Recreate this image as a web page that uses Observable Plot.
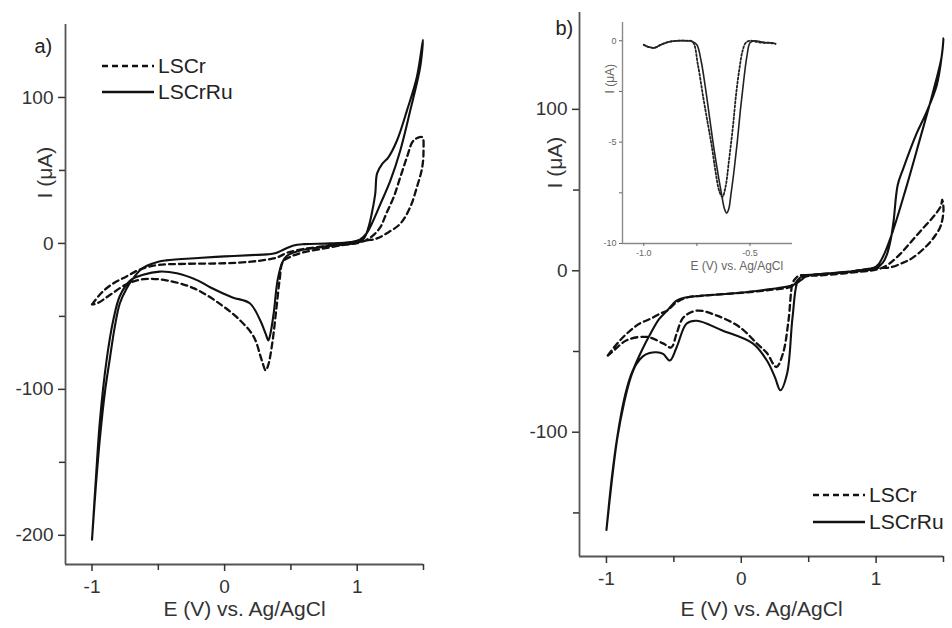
<!DOCTYPE html>
<html><head><meta charset="utf-8">
<script src="https://cdn.jsdelivr.net/npm/d3@7"></script>
<script src="https://cdn.jsdelivr.net/npm/@observablehq/plot@0.6"></script>
<style>
body{margin:0;background:#fff;font-family:"Liberation Sans",Arial,sans-serif;}
#wrap{position:relative;width:952px;height:628px;overflow:hidden;background:#fff;}
#wrap > svg{position:absolute;}
.leg{position:absolute;display:flex;align-items:center;height:26px;font-size:21px;color:#222;white-space:nowrap;}
#wrap .leg svg{position:static;margin-right:4px;display:block;}
</style></head>
<body><div id="wrap"></div>
<script>
// ---------- data ----------
const seriesNames = ["LSCr", "LSCrRu"];
const xTicksMain = [-1, 0, 1];
const xMinorMain = [-0.5, 0.5, 1.5];
const yTicksA = [-200, -100, 0, 100];
const yMinorA = [-150, -50, 50];
const yTicksB = [-100, 0, 100];
const yMinorB = [-150, -50, 50];
const insetXTicks = [-1.0, -0.5];
const insetXMinor = [-0.75];
const insetYTicks = [-10, -5, 0];
const insetYMinor = [-7.5, -2.5];

// panel a) LSCr (dashed) closed CV loop, [E (V), I (uA)]
const aLSCr = [[-1.0,-41.8],[-0.93,-34],[-0.85,-28],[-0.74,-22.6],[-0.63,-17.5],[-0.5,-14.8],[-0.3,-14],[0,-13.6],[0.2,-12.5],[0.32,-11.1],[0.4,-9.5],[0.47,-6.5],[0.57,-4.2],[0.7,-2.5],[0.85,-1.0],[0.98,0.5],[1.07,2],[1.15,3.4],[1.22,6.8],[1.325,13.5],[1.4,24.9],[1.45,38.5],[1.49,52],[1.5,63.7],[1.49,72.8],
 [1.425,70.5],[1.375,59],[1.325,45.4],[1.275,31.7],[1.22,20.5],[1.175,11.2],[1.12,5.5],[1.07,2.4],[1.0,0.2],[0.9,-1],[0.75,-3.4],[0.6,-6],[0.5,-9],[0.44,-12.5],[0.415,-25],[0.39,-45],[0.36,-68],[0.33,-83],[0.31,-87],[0.28,-80],[0.22,-64],[0.12,-53],[-0.03,-41.8],[-0.23,-30.8],[-0.44,-25.3],[-0.61,-24.5],[-0.74,-28],[-0.86,-35],[-0.96,-41],[-1.0,-41.8]];
// panel a) LSCrRu (solid)
const aLSCrRu = [[-1.0,-203],[-0.97,-165],[-0.94,-133],[-0.9,-100],[-0.864,-78],[-0.83,-58],[-0.79,-41],[-0.74,-31],[-0.69,-24],[-0.64,-18.5],[-0.59,-15.5],[-0.5,-12.5],[-0.44,-11.6],[-0.2,-10],[0,-8.9],[0.2,-8],[0.32,-7.5],[0.38,-6.8],[0.45,-4],[0.52,-1.4],[0.6,-0.5],[0.8,0],[0.95,1],[1.02,2.5],[1.07,6.8],[1.11,13.5],[1.175,27],[1.25,43],[1.325,63.7],[1.4,91],[1.475,120.8],[1.496,139.5],
 [1.45,114],[1.375,91],[1.3,70.5],[1.235,59],[1.19,54.6],[1.15,48],[1.136,34],[1.11,20.5],[1.085,11],[1.05,3.4],[1.0,0.7],[0.9,-0.8],[0.8,-1.5],[0.7,-3],[0.57,-4.8],[0.47,-8.5],[0.435,-13],[0.40,-25],[0.37,-48],[0.345,-62],[0.33,-66.4],[0.31,-62],[0.27,-53],[0.19,-41],[0.06,-37],[-0.11,-30],[-0.2,-25.5],[-0.36,-20.5],[-0.49,-19.3],[-0.615,-21.5],[-0.71,-25.3],[-0.79,-36],[-0.84,-52.7],[-0.89,-80],[-0.94,-121],[-0.97,-160],[-1.0,-203]];

// panel b) LSCr (dashed)
const bLSCr = [[-0.99,-52.5],[-0.92,-45],[-0.85,-39],[-0.76,-33],[-0.68,-30],[-0.6,-26.5],[-0.55,-24.7],[-0.48,-19.5],[-0.4,-16.5],[-0.3,-15.5],[0,-13.6],[0.2,-12],[0.38,-9.5],[0.43,-5],[0.5,-3.2],[0.75,-1.2],[1.0,1.7],[1.1,2],[1.2,5],[1.27,8],[1.37,15],[1.44,22],[1.48,28],[1.5,38],[1.49,44],
 [1.48,40],[1.42,33],[1.33,24.7],[1.25,17],[1.18,10.5],[1.1,4.5],[1.05,2],[1.0,0.7],[0.75,-1.7],[0.55,-3],[0.43,-3],[0.4,-5],[0.38,-8],[0.35,-31],[0.31,-51],[0.26,-59.6],[0.19,-51],[0.115,-45],[-0.01,-35],[-0.18,-27.8],[-0.33,-24.7],[-0.43,-29],[-0.48,-39],[-0.52,-47.5],[-0.58,-45],[-0.7,-41],[-0.85,-43],[-0.94,-49],[-0.99,-52.5]];
// panel b) LSCrRu (solid)
const bLSCrRu = [[-1.0,-160.5],[-0.96,-128],[-0.92,-103],[-0.87,-80],[-0.82,-65],[-0.78,-57],[-0.73,-48],[-0.68,-40],[-0.61,-30],[-0.55,-24.7],[-0.48,-18.5],[-0.41,-16.5],[-0.3,-15.5],[0,-13.6],[0.2,-11.5],[0.38,-9],[0.44,-6],[0.49,-3],[0.6,-1.8],[0.75,-1.2],[0.9,0],[1.0,1.5],[1.05,5],[1.08,10],[1.11,20],[1.13,31],[1.16,53],[1.2,63],[1.3,85],[1.37,97.5],[1.45,115],[1.49,135],[1.5,144],
 [1.485,132],[1.42,110],[1.32,80],[1.22,50.6],[1.12,23.5],[1.05,8.6],[1.0,2.5],[0.85,0],[0.7,-1.2],[0.55,-2.5],[0.46,-3],[0.42,-6],[0.38,-29],[0.34,-63.6],[0.29,-74],[0.25,-66],[0.19,-55.6],[0.085,-45],[-0.14,-37],[-0.33,-31],[-0.405,-32.7],[-0.48,-47.5],[-0.53,-55.6],[-0.58,-51.5],[-0.63,-50.5],[-0.68,-51],[-0.73,-53],[-0.78,-58],[-0.82,-66],[-0.87,-82],[-0.92,-104],[-0.96,-130],[-1.0,-160.5]];

// inset
const insetLSCr = [[-1.0,-0.2],[-0.98,-0.3],[-0.95,-0.35],[-0.92,-0.2],[-0.88,-0.05],[-0.84,0],[-0.8,0],[-0.77,-0.05],[-0.745,-1.2],[-0.72,-2.8],[-0.70,-4.0],[-0.68,-5.2],[-0.66,-6.6],[-0.645,-7.4],[-0.63,-7.7],[-0.615,-7.2],[-0.6,-6.0],[-0.58,-4.2],[-0.565,-2.6],[-0.55,-1.4],[-0.535,-0.5],[-0.52,-0.1],[-0.5,0],[-0.47,-0.05],[-0.44,-0.1],[-0.41,-0.1],[-0.38,-0.15]];
const insetLSCrRu = [[-1.0,-0.2],[-0.98,-0.3],[-0.95,-0.35],[-0.92,-0.2],[-0.88,-0.05],[-0.84,0],[-0.8,0],[-0.77,-0.05],[-0.75,-0.2],[-0.73,-1.0],[-0.71,-2.3],[-0.69,-3.8],[-0.67,-5.3],[-0.65,-6.6],[-0.635,-7.5],[-0.62,-8.3],[-0.61,-8.5],[-0.6,-8.3],[-0.59,-7.6],[-0.575,-6.4],[-0.56,-5.0],[-0.545,-3.4],[-0.53,-2.0],[-0.515,-0.8],[-0.5,-0.1],[-0.48,0],[-0.45,-0.05],[-0.42,-0.1],[-0.4,-0.1],[-0.38,-0.15]];

// ---------- drawing ----------
const FONT = '"Liberation Sans", Arial, sans-serif';
const wrap = document.getElementById("wrap");
const fmt = d => String(d);
const fmt1 = d => d.toFixed(1);
const AX = "#555", TXT = "#333", INK = "#111";

function mainPanel(o) {
  const svg = Plot.plot({
    width: 476, height: 628,
    marginLeft: o.m[0], marginRight: o.m[1], marginTop: o.m[2], marginBottom: o.m[3],
    style: {fontFamily: FONT, background: "transparent", overflow: "visible"},
    x: {domain: [-1.2, 1.5]},
    y: {domain: o.yDomain},
    marks: [
      Plot.ruleX([-1.2], {stroke: AX, strokeWidth: 1.8}),
      Plot.ruleY([o.yDomain[0]], {stroke: AX, strokeWidth: 1.8}),
      Plot.axisX({ticks: xTicksMain, tickSize: 7, tickPadding: 8, fontSize: 19, tickFormat: fmt, label: null, color: TXT, strokeWidth: 1.5}),
      Plot.axisX({ticks: xMinorMain, tickSize: 6, tickFormat: () => "", label: null, color: TXT, strokeWidth: 1.5}),
      Plot.axisY({ticks: o.yTicks, tickSize: 7, tickPadding: 5, fontSize: 19, tickFormat: fmt, label: null, color: TXT, strokeWidth: 1.5}),
      Plot.axisY({ticks: o.yMinor, tickSize: 6, tickFormat: () => "", label: null, color: TXT, strokeWidth: 1.5}),
      Plot.line(o.dashed, {x: d => d[0], y: d => d[1], curve: "catmull-rom", stroke: INK, strokeWidth: 2.3, strokeDasharray: "6,4"}),
      Plot.line(o.solid, {x: d => d[0], y: d => d[1], curve: "catmull-rom", stroke: INK, strokeWidth: 2.1}),
      Plot.text([o.letter], {text: d => d, frameAnchor: "top-left", dx: o.letterD[0], dy: o.letterD[1], fontSize: 20, fill: "#222"}),
      Plot.text(["I (\u03bcA)"], {text: d => d, frameAnchor: "top-left", dx: o.ylabD[0], dy: o.ylabD[1], rotate: -90, fontSize: 21, fill: TXT}),
      Plot.text(["E (V) vs. Ag/AgCl"], {text: d => d, frameAnchor: "bottom", dy: o.xlabDy, fontSize: 21, fill: TXT})
    ]
  });
  svg.style.left = o.left + "px";
  svg.style.top = "0px";
  wrap.appendChild(svg);
}

mainPanel({left: 0, m: [65, 53, 24, 64], yDomain: [-220, 150], yTicks: yTicksA, yMinor: yMinorA,
  dashed: aLSCr, solid: aLSCrRu, letter: "a)", letterD: [-31, 14], ylabD: [-28, 174], xlabDy: 51});
mainPanel({left: 476, m: [103, 9, 12, 72], yDomain: [-177, 160], yTicks: yTicksB, yMinor: yMinorB,
  dashed: bLSCr, solid: bLSCrRu, letter: "b)", letterD: [-24, 8], ylabD: [-32, 176], xlabDy: 59});

// inset
const IAX = "#8a8a8a", ITXT = "#666";
const inset = Plot.plot({
  width: 240, height: 280, marginLeft: 62, marginRight: 8, marginTop: 22, marginBottom: 37,
  style: {fontFamily: FONT, background: "transparent", overflow: "visible"},
  x: {domain: [-1.1, -0.3]},
  y: {domain: [-10, 0.9]},
  marks: [
    Plot.ruleX([-1.1], {stroke: IAX, strokeWidth: 1.4}),
    Plot.ruleY([-10], {stroke: IAX, strokeWidth: 1.4}),
    Plot.axisX({ticks: insetXTicks, tickSize: 3, tickPadding: 3, fontSize: 9, tickFormat: fmt1, label: null, color: ITXT}),
    Plot.axisX({ticks: insetXMinor, tickSize: 3, tickFormat: () => "", label: null, color: ITXT}),
    Plot.axisY({ticks: insetYTicks, tickSize: 3, tickPadding: 3, fontSize: 9, tickFormat: fmt, label: null, color: ITXT}),
    Plot.axisY({ticks: insetYMinor, tickSize: 3, tickFormat: () => "", label: null, color: ITXT}),
    Plot.line(insetLSCr, {x: d => d[0], y: d => d[1], curve: "catmull-rom", stroke: "#222", strokeWidth: 1.8, strokeDasharray: "2,2"}),
    Plot.line(insetLSCrRu, {x: d => d[0], y: d => d[1], curve: "catmull-rom", stroke: "#222", strokeWidth: 1.6}),
    Plot.text(["I (\u03bcA)"], {text: d => d, frameAnchor: "top-left", dx: -17, dy: 71, rotate: -90, fontSize: 12, fill: ITXT}),
    Plot.text(["E (V) vs. Ag/AgCl"], {text: d => d, frameAnchor: "bottom-left", dx: 68, dy: 26, fontSize: 12, fill: ITXT})
  ]
});
inset.style.left = "560px";
inset.style.top = "0px";
wrap.appendChild(inset);

// legends
function legend(left, top, dashed, name) {
  const div = document.createElement("div");
  div.className = "leg";
  div.style.left = left + "px";
  div.style.top = (top - 13) + "px";
  const s = d3.create("svg").attr("width", 52).attr("height", 6);
  s.append("line").attr("x1", 0).attr("x2", 52).attr("y1", 3).attr("y2", 3)
    .attr("stroke", INK).attr("stroke-width", 2.3).attr("stroke-dasharray", dashed ? "6,4" : null);
  div.appendChild(s.node());
  const t = document.createElement("span");
  t.textContent = name;
  div.appendChild(t);
  wrap.appendChild(div);
}
legend(102, 66, true, seriesNames[0]);
legend(102, 92, false, seriesNames[1]);
legend(813, 495, true, seriesNames[0]);
legend(813, 522, false, seriesNames[1]);
</script></body></html>
